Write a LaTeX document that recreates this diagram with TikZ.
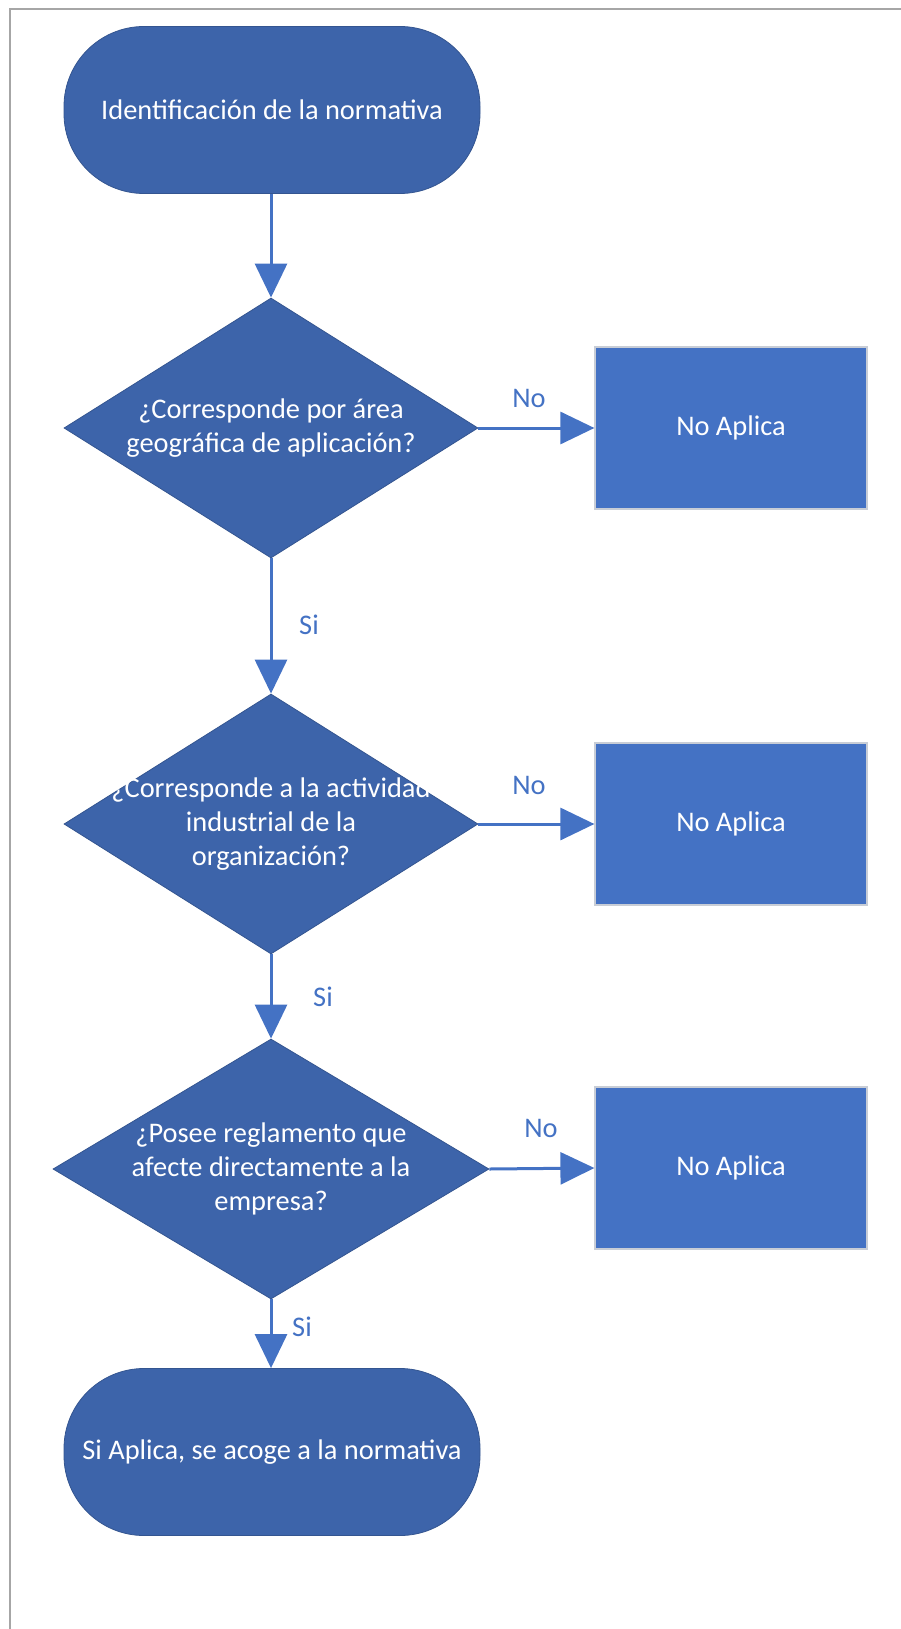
\documentclass[tikz,border=0pt]{standalone}
\usepackage{fontspec}
\setmainfont{Carlito}
\usetikzlibrary{shapes.geometric,arrows.meta}
\definecolor{darkblue}{HTML}{3D64AA}
\definecolor{midblue}{HTML}{4472C4}
\definecolor{frame}{HTML}{A6A6A6}
\definecolor{boxedge}{HTML}{C8CDD6}
\tikzset{
  txt/.style={font=\fontsize{28.4}{34}\selectfont},
  term/.style={draw=darkblue!85!black, line width=0.8pt, fill=darkblue, rectangle, rounded corners=80pt,
    minimum width=416pt, minimum height=167pt, inner sep=0pt, text=white, txt},
  decision/.style={draw=darkblue!85!black, line width=0.8pt, fill=darkblue, diamond, shape aspect=1,
    inner sep=0pt, minimum width=#1, minimum height=260pt},
  dtext/.style={text=white, align=center, txt, inner sep=0pt},
  nobox/.style={draw=boxedge, line width=1.2pt, fill=midblue, rectangle, minimum width=272pt,
    minimum height=162pt, inner sep=0pt, text=white, txt},
  conn/.style={draw=midblue, line width=3pt, -{Triangle[width=32pt,length=34pt]}},
  lbl/.style={text=midblue, txt, inner sep=0pt}
}
\begin{document}
\begin{tikzpicture}[x=1pt,y=-1pt]
\useasboundingbox (0,0) rectangle (901,1629);
\draw[frame, line width=2pt] (901,9) -- (10,9) -- (10,1629);

\node[term] (t1) at (272,110) {Identificación de la normativa};
\node[decision=414pt] (d1) at (271,428) {};
\node[dtext] (d1t) at (d1.center) {¿Corresponde por área\\geográfica de aplicación?};
\node[nobox] (n1) at (731,428) {No Aplica};

\node[decision=414pt] (d2) at (271,824) {};
\node[dtext] (d2t) at (d2.center) {¿Corresponde a la actividad\\industrial de la\\organización?};
\node[nobox] (n2) at (731,824) {No Aplica};

\node[decision=436pt] (d3) at (271,1169) {};
\node[dtext] (d3t) at (d3.center) {¿Posee reglamento que\\afecte directamente a la\\empresa?};
\node[nobox] (n3) at (731,1168) {No Aplica};

\node[term] (t2) at (272,1452) {Si Aplica, se acoge a la normativa};

\draw[conn] (t1.south -| d1.north) -- (d1.north);
\draw[conn] (d1.east) -- (n1.west);
\draw[conn] (d1.south) -- (d2.north);
\draw[conn] (d2.east) -- (n2.west);
\draw[conn] (d2.south) -- (d3.north);
\draw[conn] (d3.east) -- (n3.west);
\draw[conn] (d3.south) -- (d3.south |- t2.north);

\node[lbl] (no1) at (529,398) {No};
\node[lbl] (no2) at (529,785) {No};
\node[lbl] (no3) at (541,1128) {No};
\node[lbl] (si1) at (309,625) {Si};
\node[lbl] (si2) at (323,997) {Si};
\node[lbl] (si3) at (302,1327) {Si};
\end{tikzpicture}
\end{document}
